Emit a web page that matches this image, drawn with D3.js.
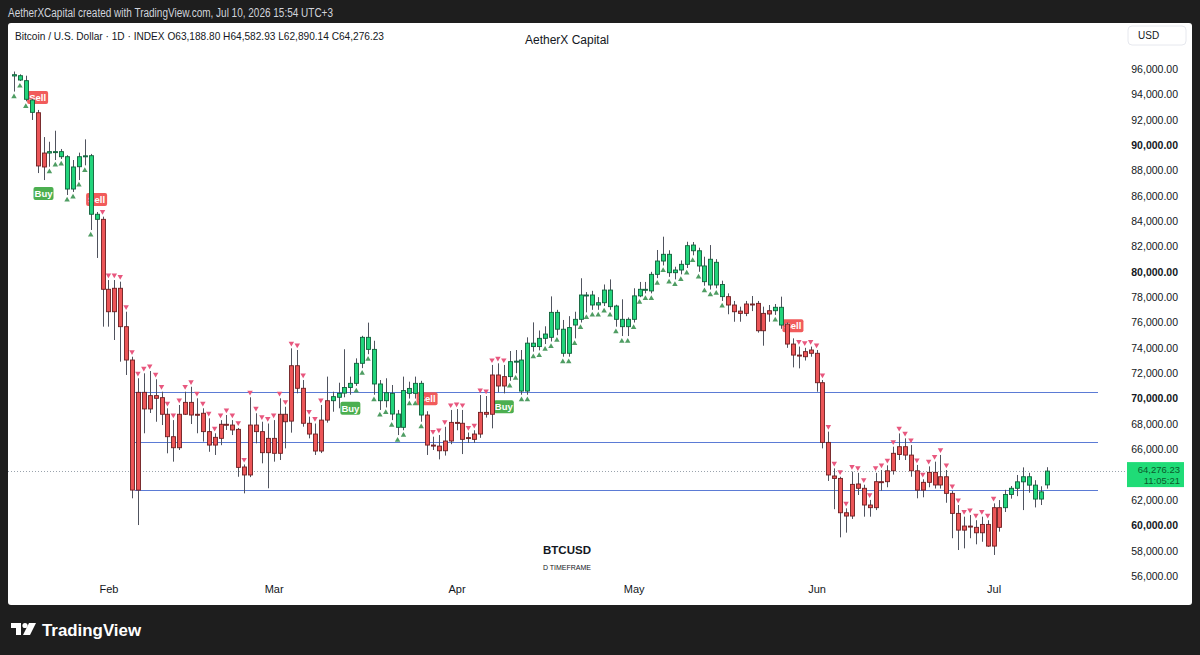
<!DOCTYPE html>
<html>
<head>
<meta charset="utf-8">
<script src="https://cdn.jsdelivr.net/npm/d3@7"></script>
<style>
  html, body { margin: 0; padding: 0; background: #1e1e1e; }
  svg { display: block; font-family: "Liberation Sans", Arial, sans-serif; }
</style>
</head>
<body>
<div id="chart"></div>
<script>
// Daily candles, first bar on this date
const startDate = "2026-01-16";

const opens = [
  95450, 95470, 95080, 93550, 92550, 88270, 89370, 89480, 89480, 89080,
  86530, 88290, 89080, 89160, 84540, 84140, 78620, 76850, 78700, 75670,
  73040, 62780, 70490, 69180, 70230, 70070, 68760, 66990, 66120, 68760,
  69700, 68760, 68840, 67390, 66330, 66860, 67970, 67910, 67570, 64600,
  63970, 67910, 67390, 65730, 66860, 65680, 68760, 68220, 72590, 70810,
  68050, 67200, 65860, 68300, 69830, 70100, 70430, 70870, 71200, 72780,
  74830, 73880, 71150, 69830, 70410, 68780, 67730, 70410, 70410, 71200,
  68700, 66330, 66250, 65880, 66650, 68120, 68050, 66900, 66780, 67200,
  68910, 68760, 71860, 70990, 71730, 72910, 73040, 70590, 74370, 74100,
  74750, 74830, 76800, 75470, 73570, 75800, 76250, 78170, 78170, 77380,
  77560, 78560, 77300, 76250, 75670, 76250, 78100, 78620, 78490, 79800,
  80850, 81380, 79930, 80140, 80590, 82110, 81660, 80460, 78960, 80750,
  79000, 78040, 77380, 76900, 76720, 77460, 77510, 75350, 76670, 76930,
  77200, 75880, 74300, 73430, 73300, 73570, 73570, 71250, 66540, 63890,
  63700, 60990, 60730, 63260, 62920, 61600, 61390, 63440, 63440, 64300,
  65590, 66200, 65540, 64300, 62780, 63390, 64180, 63180, 63830, 62520,
  60940, 59620, 59940, 59840, 59410, 60070, 58360, 61390, 61390, 62430,
  62920, 63430, 63830, 63170, 62070, 63188.80
];
const highs = [
  95800, 95580, 95470, 93610, 92770, 90630, 90260, 91130, 89690, 89200,
  88820, 89400, 90450, 89300, 84720, 84350, 79350, 79350, 79220, 76850,
  73300, 71600, 71990, 72170, 71520, 70540, 69230, 68300, 69490, 70540,
  70930, 70020, 69230, 68440, 67260, 68300, 68700, 68300, 67680, 64800,
  70100, 68840, 68170, 68030, 68300, 70020, 69350, 73960, 73830, 71460,
  68570, 68030, 69490, 71730, 70540, 71250, 73890, 71730, 73170, 74950,
  75990, 74560, 71460, 71600, 71070, 69100, 71730, 71330, 71730, 71400,
  69000, 66990, 67120, 67770, 69100, 69170, 69100, 67320, 67500, 70280,
  70200, 72650, 72780, 72650, 73750, 73830, 73830, 74830, 76010, 75370,
  75700, 78060, 77000, 76200, 76500, 76850, 79490, 78400, 78500, 78000,
  79000, 79400, 77400, 77830, 76400, 78700, 79200, 79200, 80000, 81720,
  82770, 81700, 80400, 80900, 82370, 82350, 81900, 81190, 82110, 81000,
  79300, 78300, 77700, 77250, 77700, 78090, 77700, 77250, 77380, 77460,
  78040, 76000, 74750, 74100, 74000, 74100, 73830, 71460, 67390, 64490,
  63830, 61340, 64230, 64140, 63200, 62000, 64140, 64360, 64730, 66200,
  67250, 66860, 66330, 64760, 63630, 64650, 65020, 65550, 64360, 62700,
  61600, 60680, 60810, 60400, 60680, 60400, 61730, 61990, 62800, 63100,
  63970, 64570, 64140, 63560, 63080, 64582.93
];
const lows = [
  94220, 95050, 93450, 91980, 87790, 87240, 88290, 88820, 88900, 86060,
  86300, 87240, 88400, 83300, 81090, 75670, 75670, 74620, 72910, 71860,
  62130, 60020, 67260, 68860, 68170, 67910, 65680, 65020, 65940, 68700,
  67990, 67260, 66600, 65800, 65550, 66320, 67520, 67120, 63830, 62520,
  63800, 66470, 64890, 62920, 65020, 65150, 66070, 67310, 70410, 67780,
  66860, 65550, 65700, 68100, 68960, 69230, 70100, 70300, 71000, 72400,
  73500, 70300, 69100, 69300, 68300, 67120, 67500, 70000, 70000, 68170,
  65550, 65940, 65200, 65500, 66400, 67500, 65620, 66500, 66500, 66900,
  68500, 67650, 70500, 70410, 71400, 72000, 70300, 70300, 73700, 73800,
  74300, 74500, 75000, 73300, 73300, 74750, 76000, 76800, 77000, 77000,
  77300, 77000, 75670, 74930, 74930, 76000, 78000, 78300, 78300, 79500,
  80500, 79600, 79400, 79800, 80300, 81300, 80000, 78900, 78600, 78700,
  77700, 76650, 76060, 76060, 76500, 76900, 75200, 74170, 76060, 76600,
  75500, 74000, 72460, 72380, 73000, 73300, 70540, 66070, 63500, 61270,
  59050, 59420, 60500, 62390, 60680, 60680, 61200, 62730, 63000, 64000,
  65150, 65150, 63830, 62130, 62210, 63000, 62900, 62900, 61780, 58980,
  58050, 58180, 58980, 58500, 58700, 58300, 57660, 59500, 61050, 62100,
  62300, 61200, 62570, 61410, 61600, 62890.14
];
const closes = [
  95550, 95130, 93610, 92580, 88350, 89370, 89480, 89470, 89080, 86530,
  88270, 89080, 89150, 84540, 84140, 78620, 76850, 78700, 75670, 73040,
  62780, 70490, 69180, 70230, 70020, 68760, 66990, 66120, 68760, 69700,
  68700, 68740, 67390, 66330, 66940, 67970, 67960, 67520, 64570, 63970,
  67910, 67390, 65730, 66860, 65680, 68760, 68170, 72590, 70810, 68050,
  67200, 65860, 68300, 69830, 70150, 70410, 70870, 71200, 72780, 74830,
  73880, 71150, 69830, 70460, 68780, 67730, 70630, 70800, 71200, 68700,
  66330, 66250, 65880, 66650, 68120, 68050, 66780, 66920, 67200, 68910,
  68760, 71860, 70990, 71730, 72910, 72950, 70590, 74370, 74100, 74750,
  75090, 76800, 75470, 73570, 75600, 76250, 78170, 78150, 77380, 77560,
  78560, 77250, 76250, 75670, 76250, 78100, 78620, 78600, 79800, 80850,
  81380, 79930, 80140, 80590, 82060, 81660, 80460, 79220, 80990, 78960,
  78040, 77380, 76850, 76720, 77460, 77440, 75350, 76720, 76930, 77200,
  75800, 74300, 73430, 73410, 73700, 73830, 71250, 66540, 63970, 63700,
  60990, 60730, 63230, 62920, 61600, 61390, 63440, 63420, 64300, 65680,
  66200, 65540, 64300, 62780, 63390, 64180, 63180, 63830, 62520, 60940,
  59620, 59940, 59880, 59410, 60070, 58360, 61390, 59840, 62430, 62920,
  63430, 63830, 63170, 62070, 62640, 64276.23
];

// Candle colour runs from the trend indicator: g = bullish, r = bearish
const trendRuns = [["g", 4], ["r", 2], ["g", 9], ["r", 39], ["g", 16], ["r", 14],
  ["g", 37], ["r", 8], ["g", 2], ["r", 37], ["g", 8]];
// Marker runs: u = green triangle below, d = pink triangle above, . = none
const markerRuns = [["u", 3], [".", 3], ["u", 8], [".", 1], ["d", 38], [".", 5],
  ["u", 12], [".", 1], ["d", 13], ["u", 37], [".", 8], ["u", 1], [".", 1], [".", 2],
  ["d", 34], [".", 9]];

// Signals: bar index and type
const signals = [[4, "Sell"], [5, "Buy"], [14, "Sell"], [57, "Buy"], [70, "Sell"], [83, "Buy"], [132, "Sell"]];

// Horizontal support / resistance levels, drawn from bar 21
const levels = [70490, 66590, 62780];
const levelStart = 21;

const priceTicks = [56000, 58000, 60000, 62000, 64000, 66000, 68000, 70000, 72000, 74000,
  76000, 78000, 80000, 82000, 84000, 86000, 88000, 90000, 92000, 94000, 96000];
const boldTicks = [60000, 70000, 80000, 90000];

const lastPrice = 64276.23;
const countdown = "11:05:21";

// ---------------------------------------------------------------
const W = 1200, H = 655;
const panel = { x: 8, y: 23, w: 1184, h: 582 };
const plotRight = 1098;

const expand = runs => runs.flatMap(([k, n]) => Array(n).fill(k));
const trend = expand(trendRuns);
const markers = expand(markerRuns);

const parse = d3.utcParse("%Y-%m-%d");
const t0 = parse(startDate);
const bars = opens.map((o, i) => ({
  i,
  date: d3.utcDay.offset(t0, i),
  o, h: highs[i], l: lows[i], c: closes[i],
  trend: trend[i],
  mark: markers[i]
}));

const x = d3.scaleUtc()
  .domain([bars[0].date, bars[bars.length - 1].date])
  .range([14, 1046.7]);

const y = d3.scaleLinear()
  .domain([56000, 96000])
  .range([576, 69]);

const ly = y(lastPrice);

const svg = d3.select("#chart").append("svg")
  .attr("width", W)
  .attr("height", H);

svg.append("rect").attr("width", W).attr("height", H).attr("fill", "#1e1e1e");

// header
svg.append("text")
  .attr("x", 8).attr("y", 17)
  .attr("fill", "#d1d4dc")
  .style("font-size", "12px")
  .attr("textLength", 325)
  .attr("lengthAdjust", "spacingAndGlyphs")
  .text("AetherXCapital created with TradingView.com, Jul 10, 2026 15:54 UTC+3");

// white panel
svg.append("rect")
  .attr("x", panel.x).attr("y", panel.y)
  .attr("width", panel.w).attr("height", panel.h)
  .attr("rx", 3)
  .attr("fill", "#ffffff");

// legend line
svg.append("text")
  .attr("x", 15).attr("y", 40)
  .attr("fill", "#131722")
  .style("font-size", "11px")
  .attr("textLength", 369)
  .attr("lengthAdjust", "spacingAndGlyphs")
  .text("Bitcoin / U.S. Dollar \u00b7 1D \u00b7 INDEX   O63,188.80   H64,582.93   L62,890.14   C64,276.23");

svg.append("text")
  .attr("x", 567).attr("y", 44)
  .attr("text-anchor", "middle")
  .attr("fill", "#131722")
  .style("font-size", "12px")
  .text("AetherX Capital");

// watermark
svg.append("text")
  .attr("x", 567).attr("y", 554)
  .attr("text-anchor", "middle")
  .attr("fill", "#131722")
  .style("font-size", "11.5px")
  .style("font-weight", "bold")
  .text("BTCUSD");
svg.append("text")
  .attr("x", 567).attr("y", 570)
  .attr("text-anchor", "middle")
  .attr("fill", "#131722")
  .style("font-size", "7px")
  .text("D TIMEFRAME");

// USD box
svg.append("rect")
  .attr("x", 1128).attr("y", 26)
  .attr("width", 58).attr("height", 19)
  .attr("rx", 4)
  .attr("fill", "#fff")
  .attr("stroke", "#e6e8ee");
svg.append("text")
  .attr("x", 1138).attr("y", 39)
  .attr("fill", "#131722")
  .style("font-size", "10px")
  .text("USD");

// price axis (the tick hidden under the last-price label is skipped)
const shownTicks = priceTicks.filter(t => Math.abs(y(t) - (ly + 3)) > 14);
const yAxis = svg.append("g")
  .attr("transform", "translate(1178,0)")
  .call(d3.axisLeft(y).tickValues(shownTicks).tickSize(0).tickPadding(0).tickFormat(d3.format(",.2f")));
yAxis.select(".domain").remove();
yAxis.selectAll("text")
  .attr("fill", "#131722")
  .style("font-size", "10.5px")
  .style("font-family", "Liberation Sans, Arial, sans-serif")
  .style("font-weight", d => boldTicks.includes(d) ? "bold" : "normal");

// time axis
const xAxis = svg.append("g")
  .attr("transform", "translate(0,585)")
  .call(d3.axisBottom(x).ticks(d3.utcMonth.every(1)).tickSize(0).tickPadding(0).tickFormat(d3.utcFormat("%b")));
xAxis.select(".domain").remove();
xAxis.selectAll("text")
  .attr("fill", "#131722")
  .style("font-size", "11px")
  .style("font-family", "Liberation Sans, Arial, sans-serif");

// levels
svg.append("g").selectAll("line")
  .data(levels)
  .join("line")
  .attr("x1", x(bars[levelStart].date) - 3)
  .attr("x2", plotRight)
  .attr("y1", d => Math.round(y(d)) + 0.5)
  .attr("y2", d => Math.round(y(d)) + 0.5)
  .attr("stroke", "#5b7bd5")
  .attr("stroke-width", 1);

// last price dotted line
svg.append("line")
  .attr("x1", panel.x).attr("x2", 1126)
  .attr("y1", Math.round(ly) + 0.5)
  .attr("y2", Math.round(ly) + 0.5)
  .attr("stroke", "#9aa3ad")
  .attr("stroke-width", 1)
  .attr("stroke-dasharray", "1,2");

// signal labels (drawn beneath candles)
const sig = svg.append("g");
signals.forEach(([idx, type]) => {
  const b = bars[idx];
  const cx = x(b.date);
  const w = type === "Sell" ? 21 : 20, h = 13;
  const top = type === "Sell" ? y(b.h) - 6 - h : y(b.l) + 7;
  sig.append("rect")
    .attr("x", cx - w / 2).attr("y", top)
    .attr("width", w).attr("height", h)
    .attr("rx", 2)
    .attr("fill", type === "Sell" ? "#f15b5b" : "#4caf50");
  sig.append("text")
    .attr("x", cx).attr("y", top + 10)
    .attr("text-anchor", "middle")
    .attr("fill", "#ffffff")
    .style("font-size", "9.5px")
    .style("font-weight", "bold")
    .text(type);
});

// triangles
const triUp = d3.symbol(d3.symbolTriangle, 13);
svg.append("g").selectAll("path")
  .data(bars.filter(d => d.mark !== "."))
  .join("path")
  .attr("d", triUp)
  .attr("transform", d => d.mark === "u"
    ? `translate(${x(d.date)},${y(d.l) + 5})`
    : `translate(${x(d.date)},${y(d.h) - 5}) rotate(180)`)
  .attr("fill", d => d.mark === "u" ? "#4f9d63" : "#e8577e");

// candles
const bodyW = 4;
const candles = svg.append("g").selectAll("g")
  .data(bars)
  .join("g");

candles.append("line")
  .attr("x1", d => Math.round(x(d.date)) + 0.5)
  .attr("x2", d => Math.round(x(d.date)) + 0.5)
  .attr("y1", d => y(d.h))
  .attr("y2", d => y(d.l))
  .attr("stroke", "#50535e")
  .attr("stroke-width", 1);

candles.append("rect")
  .attr("x", d => Math.round(x(d.date)) + 0.5 - bodyW / 2)
  .attr("y", d => y(Math.max(d.o, d.c)))
  .attr("width", bodyW)
  .attr("height", d => Math.max(1, Math.abs(y(d.o) - y(d.c))))
  .attr("fill", d => d.trend === "g" ? "#22d47b" : "#ec5557")
  .attr("stroke", d => d.trend === "g" ? "#10603a" : "#6e1f22")
  .attr("stroke-width", 0.9);

// last price label
svg.append("rect")
  .attr("x", 1127).attr("y", ly - 9)
  .attr("width", 57).attr("height", 25)
  .attr("fill", "#1fdc77");
svg.append("text")
  .attr("x", 1180).attr("y", ly + 2)
  .attr("text-anchor", "end")
  .attr("fill", "#0b5a2c")
  .style("font-size", "9.5px")
  .text(d3.format(",.2f")(lastPrice));
svg.append("text")
  .attr("x", 1180).attr("y", ly + 13)
  .attr("text-anchor", "end")
  .attr("fill", "#0b5a2c")
  .style("font-size", "9.5px")
  .text(countdown);

// TradingView logo
const logo = svg.append("g").attr("fill", "#ffffff");
logo.append("path").attr("d", "M11,623 H21 V635 H16 V628 H11 Z");
logo.append("circle").attr("cx", 25).attr("cy", 625.5).attr("r", 2.6);
logo.append("path").attr("d", "M29,623 H36 L30,635 H23 Z");
logo.append("text")
  .attr("x", 42).attr("y", 636)
  .style("font-size", "17px")
  .style("font-weight", "600")
  .attr("textLength", 99)
  .attr("lengthAdjust", "spacingAndGlyphs")
  .text("TradingView");
</script>
</body>
</html>
